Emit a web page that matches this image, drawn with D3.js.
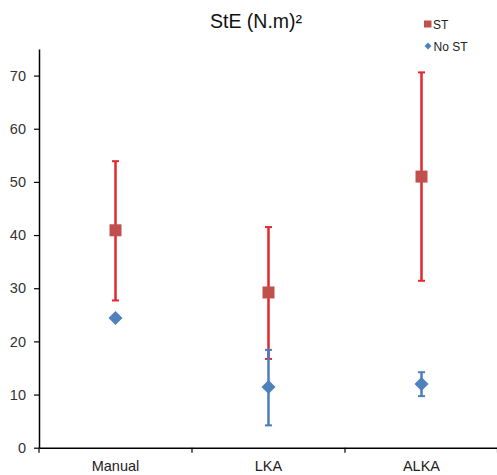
<!DOCTYPE html>
<html><head><meta charset="utf-8">
<script src="https://cdn.jsdelivr.net/npm/d3@7"></script>
<style>body{margin:0;background:#fff}svg{display:block}</style>
</head><body><svg id="c" width="497" height="475"></svg>
<script>
const categories = ["Manual", "LKA", "ALKA"];
const stMean = [40.9, 29.2, 51.0];
const stLow = [27.7, 16.7, 31.4];
const stHigh = [53.9, 41.5, 70.6];
const noMean = [24.4, 11.4, 12.0];
const noLow = [24.4, 4.2, 9.7];
const noHigh = [24.4, 18.4, 14.2];
const yTicks = [0, 10, 20, 30, 40, 50, 60, 70];

const svg = d3.select("#c");
const x0 = 39, x1 = 498, yTop = 49, yBot = 447.7;
const y = d3.scaleLinear().domain([0, 75]).range([yBot, yTop]);
const x = d3.scaleBand().domain(categories).range([x0, x1]);
const cx = d => x(d) + x.bandwidth() / 2;
const font = "Liberation Sans, Arial, sans-serif";

// y axis
const ya = svg.append("g").attr("transform", `translate(${x0},0)`)
  .call(d3.axisLeft(y).tickValues(yTicks).tickSize(5).tickSizeOuter(0));
ya.select(".domain").attr("stroke", "#000").attr("stroke-width", 1.5);
ya.selectAll(".tick line").attr("stroke", "#000").attr("stroke-width", 1.2);
ya.selectAll(".tick text").attr("font-family", font).attr("font-size", 14.5).attr("fill", "#333").attr("x", -13);

// x axis
const xa = svg.append("g").attr("transform", `translate(0,${yBot})`)
  .call(d3.axisBottom(x).tickSize(0).tickSizeOuter(0));
xa.select(".domain").attr("stroke", "#000").attr("stroke-width", 1.5);
xa.selectAll(".tick text").attr("font-family", font).attr("font-size", 14.5).attr("fill", "#222").attr("y", 13).attr("dy", "0.71em");
// boundary tick marks
svg.append("g").selectAll("line").data(categories.map(c => x(c)).concat([x1 - 0.5]))
  .join("line").attr("x1", d => d).attr("x2", d => d).attr("y1", yBot).attr("y2", yBot + 5)
  .attr("stroke", "#000").attr("stroke-width", 1.2);

function errBars(means, lo, hi, color) {
  const g = svg.append("g");
  categories.forEach((c, i) => {
    if (hi[i] === lo[i]) return;
    const xx = cx(c);
    g.append("line").attr("x1", xx).attr("x2", xx).attr("y1", y(lo[i])).attr("y2", y(hi[i]))
      .attr("stroke", color).attr("stroke-width", 2.5);
    [lo[i], hi[i]].forEach(v => g.append("line").attr("x1", xx - 3.5).attr("x2", xx + 3.5)
      .attr("y1", y(v)).attr("y2", y(v)).attr("stroke", color).attr("stroke-width", 2));
  });
}
errBars(stMean, stLow, stHigh, "#E0282D");
errBars(noMean, noLow, noHigh, "#4A7EBB");

// ST squares
svg.append("g").selectAll("rect").data(categories).join("rect")
  .attr("x", d => cx(d) - 6).attr("y", (d, i) => y(stMean[i]) - 6)
  .attr("width", 12).attr("height", 12).attr("fill", "#C0504D");
// No ST diamonds
svg.append("g").selectAll("path").data(categories).join("path")
  .attr("d", "M0,-7L7,0L0,7L-7,0Z")
  .attr("transform", (d, i) => `translate(${cx(d)},${y(noMean[i])})`)
  .attr("fill", "#4F81BD");

// title
svg.append("text").attr("x", 256).attr("y", 28).attr("text-anchor", "middle")
  .attr("font-family", font).attr("font-size", 19.5).attr("fill", "#111").text("StE (N.m)²");

// legend
svg.append("rect").attr("x", 424).attr("y", 20.5).attr("width", 7.5).attr("height", 7).attr("fill", "#C0504D");
svg.append("text").attr("x", 433).attr("y", 28.5).attr("font-family", font).attr("font-size", 12).attr("fill", "#222").text("ST");
svg.append("path").attr("d", "M0,-3.5L3.5,0L0,3.5L-3.5,0Z").attr("transform", "translate(428,46)").attr("fill", "#4F81BD");
svg.append("text").attr("x", 433.5).attr("y", 50.5).attr("font-family", font).attr("font-size", 12).attr("fill", "#222").text("No ST");
</script></body></html>
